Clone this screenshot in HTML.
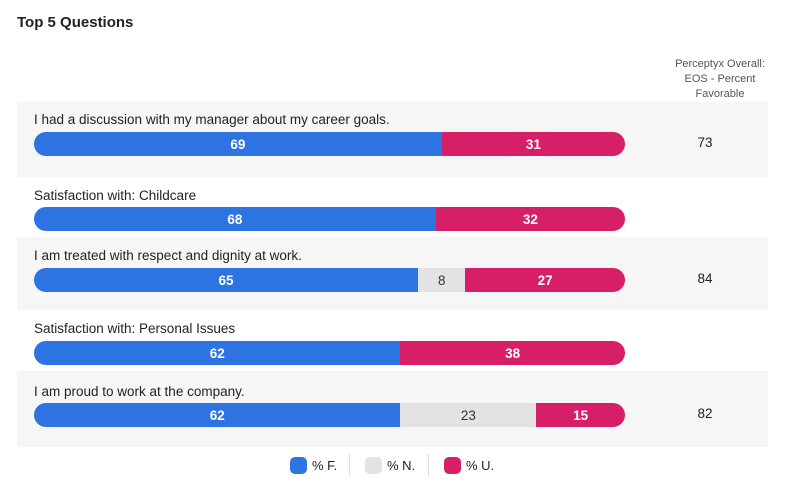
<!DOCTYPE html>
<html><head><meta charset="utf-8">
<style>
body{margin:0;width:787px;height:493px;background:#fff;font-family:"Liberation Sans",sans-serif;color:#222;position:relative;overflow:hidden}
.abs{position:absolute}
.title{left:17px;top:14px;font-size:15px;font-weight:bold;color:#222}
.hdr{left:662px;top:57px;width:116px;text-align:center;font-size:11px;line-height:15px;color:#555}
.rowbg{left:17px;width:751px;background:#f6f6f6}
.lbl{left:34px;font-size:13.5px;color:#222;margin-top:2px}
.bar{left:34px;width:591px;height:24px;border-radius:12px;overflow:hidden;display:flex}
.seg{height:100%;color:#fff;font-size:13.5px;font-weight:bold;display:flex;align-items:center;justify-content:center}
.val{left:680px;width:50px;text-align:center;font-size:13.5px}
.lg{top:457px;font-size:13px;color:#222;display:flex;align-items:center}
.dot{width:17px;height:17px;border-radius:5px;margin-right:5px}
.sep{top:454px;width:1px;height:22px;background:#ddd}
</style></head><body>
<div class="abs title">Top 5 Questions</div>
<div class="abs hdr">Perceptyx Overall:<br>EOS - Percent<br>Favorable</div>
<div id="chart"></div>
<div class="abs lg" style="left:290px"><div class="dot" style="background:#2e73e2"></div>% F.</div>
<div class="abs sep" style="left:349px"></div>
<div class="abs lg" style="left:365px"><div class="dot" style="background:#e3e3e5"></div>% N.</div>
<div class="abs sep" style="left:428px"></div>
<div class="abs lg" style="left:444px"><div class="dot" style="background:#d61f66"></div>% U.</div>
<script>
const questions=["I had a discussion with my manager about my career goals.","Satisfaction with: Childcare","I am treated with respect and dignity at work.","Satisfaction with: Personal Issues","I am proud to work at the company."];
const favorable=[69,68,65,62,62];
const neutral=[0,0,8,0,23];
const unfavorable=[31,32,27,38,15];
const benchmark=["73","","84","","82"];
const layout=[{top:102,h:75,bg:true,lbl:110,bar:132},{top:177,h:60,bg:false,lbl:186,bar:207},{top:237,h:73,bg:true,lbl:246,bar:268},{top:310,h:61,bg:false,lbl:319,bar:341},{top:371,h:76,bg:true,lbl:382,bar:403}];
const W=591;
function x(v){return v/100*W;}
const c=document.getElementById('chart');
questions.forEach((q,i)=>{
  const L=layout[i];
  if(L.bg){const bg=document.createElement('div');bg.className='abs rowbg';bg.style.top=L.top+'px';bg.style.height=L.h+'px';
  
  
  c.appendChild(bg);}
  const lb=document.createElement('div');lb.className='abs lbl';lb.style.top=L.lbl+'px';lb.textContent=q;
  
  
  c.appendChild(lb);
  const b=document.createElement('div');b.className='abs bar';b.style.top=L.bar+'px';
  
  
  [[favorable[i],'#2e73e2','#fff','favorable'],[neutral[i],'#e3e3e5','#333','neutral'],[unfavorable[i],'#d61f66','#fff','unfavorable']].forEach(s=>{
    if(!s[0])return;
    const d=document.createElement('div');d.className='seg';d.style.width=x(s[0])+'px';d.style.background=s[1];d.style.color=s[2];
    if(s[3]==='neutral')d.style.fontWeight='normal';
    d.textContent=s[0];
    
    
    b.appendChild(d);
  });
  c.appendChild(b);
  if(benchmark[i]){const v=document.createElement('div');v.className='abs val';v.style.top=(L.bar+3)+'px';v.textContent=benchmark[i];
  
  
  c.appendChild(v);}
});
</script>
</body></html>
